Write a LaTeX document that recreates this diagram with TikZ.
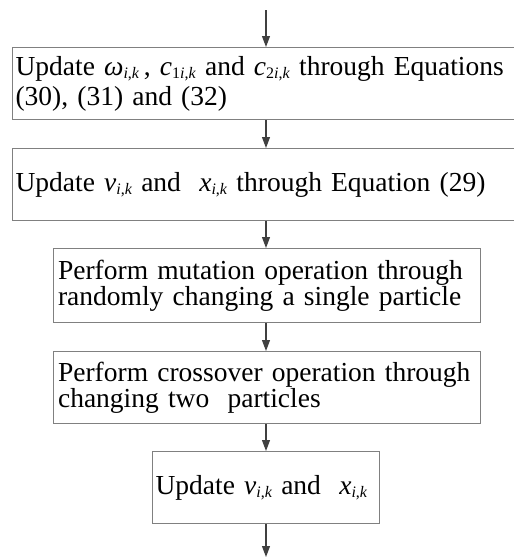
\documentclass[tikz,border=0pt]{standalone}
\usepackage{fontspec}
\setmainfont{Liberation Serif}
\usetikzlibrary{arrows.meta}
\definecolor{boxline}{HTML}{808080}
\definecolor{arrowline}{HTML}{404040}
% italic symbol with a lowered small subscript
\newcommand\vsub[2]{{\itshape #1}\raisebox{-0.12em}{\fontsize{16}{16}\selectfont #2}}
\newcommand\ik{\textit{i},\textit{k}}
\begin{document}
\begin{tikzpicture}[x=1pt,y=1pt,
  stepbox/.style={draw=boxline, line width=1.1pt, rectangle, anchor=north west,
    inner xsep=#1, inner ysep=0pt, font=\fontsize{27.5}{26}\selectfont, align=left},
  stepbox/.default=3pt,
  flow/.style={draw=arrowline, line width=1.1pt, -{Triangle[width=8pt,length=11pt]}}]
\useasboundingbox (0,0) rectangle (514,-557);

\coordinate (axis) at (266,0);
\coordinate (start) at (266,-10);
\coordinate (finish) at (266,-557);

\node[stepbox, minimum width=520pt, minimum height=72pt, text width=514pt] (b1) at (12,-47)
  {Update \vsub{ω}{\ik}\,, \vsub{c}{1\ik} and \vsub{c}{2\ik} through\ Equations\\[4pt](30), (31) and (32)};

\node[stepbox, minimum width=520pt, minimum height=72pt, text width=514pt] (b2) at (12,-148)
  {Update \vsub{v}{\ik} and~ \vsub{x}{\ik} through Equation (29)};

\node[stepbox=5pt, minimum width=427pt, minimum height=74pt, text width=417pt] (b3) at (52.5,-248)
  {Perform mutation operation through\\randomly changing a single particle};

\node[stepbox=5pt, minimum width=427pt, minimum height=72pt, text width=417pt] (b4) at (52.5,-351)
  {Perform crossover operation through\\changing two~ particles};

\node[stepbox, minimum width=227pt, minimum height=72pt, text width=221pt] (b5) at (152,-451)
  {Update \vsub{v}{\ik} and~ \vsub{x}{\ik}};

\draw[flow] (start) -- (b1.north -| axis);
\draw[flow] (b1.south -| axis) -- (b2.north -| axis);
\draw[flow] (b2.south -| axis) -- (b3.north -| axis);
\draw[flow] (b3.south -| axis) -- (b4.north -| axis);
\draw[flow] (b4.south -| axis) -- (b5.north -| axis);
\draw[flow] (b5.south -| axis) -- (finish);
\end{tikzpicture}
\end{document}
